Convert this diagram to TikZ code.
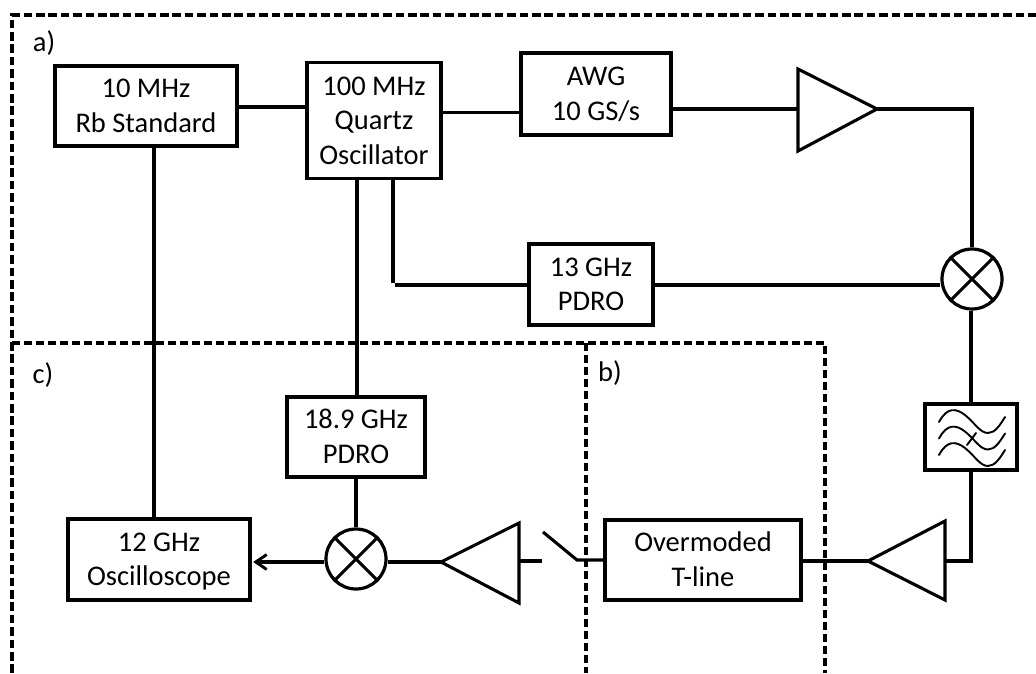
\documentclass[tikz,border=0pt]{standalone}
\usepackage{fontspec}
\setmainfont{Carlito}
\usetikzlibrary{arrows.meta,calc}
\newcommand\bstrut{\rule[-8pt]{0pt}{34pt}}
\tikzset{
  x=1pt,y=-1pt,
  blockbox/.style={draw,line width=3.3pt,align=center,inner sep=0pt,font=\fontsize{28.5}{34.5}\selectfont},
  mixer/.style={draw,circle,line width=3.2pt,minimum size=60pt,inner sep=0pt},
  xline/.style={line width=3.1pt},
  wire/.style={line width=3.1pt},
  amp/.style={line width=3.1pt,line join=miter},
  frameone/.style={line width=3.2pt,dash pattern=on 8.6pt off 3.8pt},
  frametwo/.style={line width=3.1pt,dash pattern=on 8.2pt off 3.8pt},
  tag/.style={inner sep=0pt,font=\fontsize{28.5}{34}\selectfont},
  curve/.style={line width=1.9pt,line cap=round},
}
\begin{document}
\begin{tikzpicture}
\useasboundingbox (0,0) rectangle (1036,673);
\fill[white] (0,0) rectangle (1036,673);
% frames
\draw[frameone] (12,673) -- (12,15) -- (1036,15);
\draw[frametwo] (12,343) -- (825,343) -- (825,673);
\draw[frametwo] (586,343) -- (586,673);
\node[tag] (la) at (44,43) {a)};
\node[tag] (lc) at (43,375) {c)};
\node[tag] (lb) at (610,373) {b)};
% blocks
\node[blockbox,minimum width=182pt,minimum height=80pt] (rb) at (146,106) {\bstrut 10 MHz\\Rb Standard\bstrut};
\node[blockbox,minimum width=134pt,minimum height=116pt] (qz) at (374,120.5) {\bstrut 100 MHz\\Quartz\\Oscillator\bstrut};
\node[blockbox,minimum width=150pt,minimum height=82pt] (awg) at (596,94) {\bstrut AWG\\10 GS/s\bstrut};
\node[blockbox,minimum width=124pt,minimum height=81pt] (pa) at (591,284.5) {\bstrut 13 GHz\\PDRO\bstrut};
\node[blockbox,minimum width=138pt,minimum height=80pt] (pb) at (356,437) {\bstrut 18.9 GHz\\PDRO\bstrut};
\node[blockbox,minimum width=182pt,minimum height=81pt] (os) at (159,559.5) {\bstrut 12 GHz\\Oscilloscope\bstrut};
\node[blockbox,minimum width=196pt,minimum height=80pt] (tl) at (703,560) {\bstrut Overmoded\\T-line\bstrut};
\node[blockbox,minimum width=92pt,minimum height=66pt] (fl) at (971,437) {};
% mixers
\node[mixer] (mr) at (972,279) {};
\node[mixer] (ml) at (356,559) {};
\draw[xline] (mr.45) -- (mr.225) (mr.135) -- (mr.315);
\draw[xline] (ml.45) -- (ml.225) (ml.135) -- (ml.315);
% amplifiers
\coordinate (a1t) at (798,69); \coordinate (a1b) at (798,151); \coordinate (a1o) at (877,109); \coordinate (a1i) at (798,109);
\draw[amp] (a1t) -- (a1o) -- (a1b) -- cycle;
\coordinate (a2t) at (945,521); \coordinate (a2b) at (945,600); \coordinate (a2o) at (868,561); \coordinate (a2i) at (945,561);
\draw[amp] (a2t) -- (a2o) -- (a2b) -- cycle;
\coordinate (a3t) at (519,523); \coordinate (a3b) at (519,603); \coordinate (a3o) at (441,562); \coordinate (a3i) at (519,561);
\draw[amp] (a3t) -- (a3o) -- (a3b) -- cycle;
% filter symbol
\foreach \d in {0,16.5,33}{
  \draw[curve] (939,{422+\d}) .. controls (947,{407+\d}) and (956,{408+\d}) .. (965,{415+\d})
     .. controls (975,{423+\d}) and (980,{433+\d}) .. (988,{433+\d})
     .. controls (995,{433+\d}) and (1000,{425+\d}) .. (1005,{417+\d});
}
\draw[curve] (967,445) -- (976,433);
% connectors
\draw[wire] (rb.east |- 0,107) -- (qz.west |- 0,107);
\coordinate (qa) at (441,112.5);
\draw[wire] (qa) -- (qa -| awg.west);
\draw[wire] (awg.east |- a1i) -- (a1i);
\draw[wire] (a1o) -| (mr.north);
\coordinate (pr) at (653,285);
\draw[wire] (pr) -- (pr -| mr.west);
\coordinate (qd) at (393,283);
\coordinate (qe) at (395,285);
\draw[wire] (qz.south -| qd) -- (qd);
\draw[wire] (qe) -- (qe -| pa.west);
\coordinate (qpb) at (357,300);
\draw[wire] (qz.south -| qpb) -- (pb.north -| qpb);
\draw[wire] (pb.south -| ml.north) -- (ml.north);
\coordinate (rbx) at (154,300);
\draw[wire] (rb.south -| rbx) -- (os.north -| rbx);
\coordinate (rv) at (971,500);
\draw[wire] (mr.south -| rv) -- (fl.north -| rv);
\draw[wire] (fl.south -| rv) -- (a2i -| rv) -- (a2i);
\draw[wire] (a2o) -- (tl.east |- a2o);
\coordinate (mly) at (356,562);
\draw[wire] (ml.east |- mly) -- (a3o);
\draw[wire,-{Straight Barb[length=11pt,width=15pt,line width=2.9pt]}] (ml.west |- mly) -- ([xshift=1.5pt]os.east |- mly);
% switch
\coordinate (swa) at (543,532); \coordinate (swb) at (577,560); \coordinate (swc) at (542,561);
\draw[amp] (a3i) -- (swc);
\draw[amp] (swa) -- (swb) -- (tl.west |- swb);
\end{tikzpicture}
\end{document}
